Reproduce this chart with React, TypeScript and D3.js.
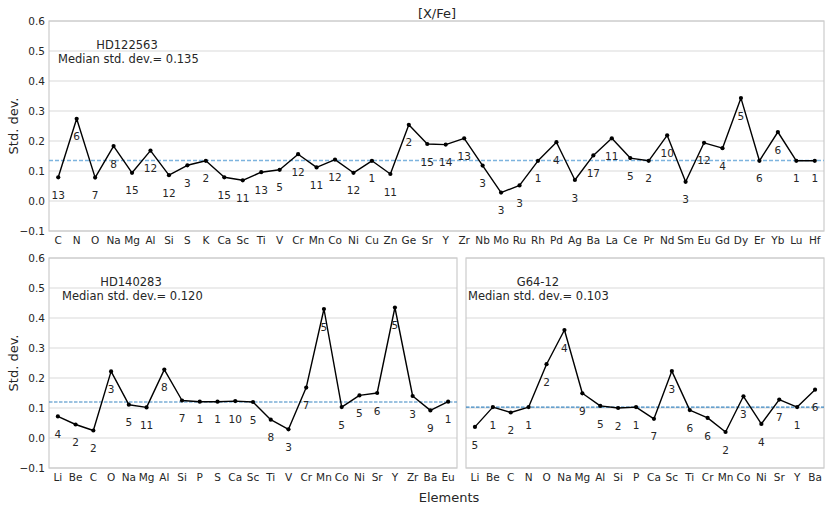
import React from "react";
import * as d3 from "d3";

const topCats = ["C","N","O","Na","Mg","Al","Si","S","K","Ca","Sc","Ti","V","Cr","Mn","Co","Ni","Cu","Zn","Ge","Sr","Y","Zr","Nb","Mo","Ru","Rh","Pd","Ag","Ba","La","Ce","Pr","Nd","Sm","Eu","Gd","Dy","Er","Yb","Lu","Hf"];
const topVals = [0.079,0.274,0.078,0.183,0.094,0.168,0.086,0.119,0.134,0.079,0.069,0.096,0.104,0.156,0.112,0.138,0.094,0.134,0.090,0.254,0.190,0.188,0.209,0.118,0.028,0.052,0.134,0.196,0.070,0.152,0.209,0.143,0.134,0.219,0.064,0.194,0.176,0.343,0.134,0.230,0.134,0.134];
const topCounts = ["13","6","7","8","15","12","12","3","2","15","11","13","5","12","11","12","12","1","11","2","15","14","13","3","3","3","1","4","3","17","11","5","2","10","3","12","4","5","6","6","1","1"];

const blCats = ["Li","Be","C","O","Na","Mg","Al","Si","P","S","Ca","Sc","Ti","V","Cr","Mn","Co","Ni","Sr","Y","Zr","Ba","Eu"];
const blVals = [0.072,0.045,0.025,0.222,0.111,0.102,0.228,0.125,0.121,0.121,0.123,0.120,0.061,0.029,0.168,0.430,0.103,0.142,0.150,0.435,0.140,0.092,0.121];
const blCounts = ["4","2","2","3","5","11","8","7","1","1","10","5","8","3","7","5","5","5","6","5","3","9","1"];

const brCats = ["Li","Be","C","N","O","Na","Mg","Al","Si","P","Ca","Sc","Ti","Cr","Mn","Co","Ni","Sr","Y","Ba"];
const brVals = [0.037,0.103,0.085,0.103,0.246,0.360,0.149,0.107,0.100,0.103,0.064,0.223,0.093,0.067,0.020,0.139,0.047,0.128,0.103,0.161];
const brCounts = ["5","1","2","1","2","4","9","5","2","1","7","3","6","6","2","3","4","7","1","6"];

const yTicks = [-0.1, 0.0, 0.1, 0.2, 0.3, 0.4, 0.5, 0.6];

const FONT = "DejaVu Sans";
const TXT = "#262626";

type PanelProps = {
  cats: string[]; vals: number[]; counts: string[]; median: number;
  star: string; left: number; right: number; top: number; bottom: number;
  showY: boolean; starX: number; medX: number; lineStyle: { color: string; dash: string; width: number };
};

function Panel(p: PanelProps) {
  const x = d3.scaleLinear().domain([-0.5, p.cats.length - 0.5]).range([p.left, p.right]);
  const y = d3.scaleLinear().domain([-0.1, 0.6]).range([p.bottom, p.top]);
  const line = d3.line<number>().x((_, i) => x(i)).y(v => y(v));
  const fmt = (v: number) => (v < 0 ? "\u2212" : "") + Math.abs(v).toFixed(1);
  return (
    <g>
      {yTicks.map(t => (
        <line key={"g" + t} x1={p.left} x2={p.right} y1={y(t)} y2={y(t)} stroke="#d9d9d9" strokeWidth={1} />
      ))}
      <rect x={p.left} y={p.top} width={p.right - p.left} height={p.bottom - p.top} fill="none" stroke="#cccccc" strokeWidth={1.2} />
      {p.showY && yTicks.map(t => (
        <text key={"yt" + t} x={p.left - 4} y={y(t)} dy="0.35em" textAnchor="end" fontSize={10.5} fill={TXT} fontFamily={FONT}>{fmt(t)}</text>
      ))}
      {p.cats.map((c, i) => (
        <text key={"xt" + i} x={x(i)} y={p.bottom + 12.5} textAnchor="middle" fontSize={10.5} fill={TXT} fontFamily={FONT}>{c}</text>
      ))}
      <line x1={p.left} x2={p.right} y1={y(p.median)} y2={y(p.median)} stroke={p.lineStyle.color} strokeWidth={p.lineStyle.width} strokeDasharray={p.lineStyle.dash} />
      <path d={line(p.vals) || ""} fill="none" stroke="#000" strokeWidth={1.4} strokeLinejoin="round" />
      {p.vals.map((v, i) => (
        <circle key={"c" + i} cx={x(i)} cy={y(v)} r={2.1} fill="#000" />
      ))}
      {p.vals.map((v, i) => (
        <text key={"n" + i} x={x(i)} y={y(v - 0.06)} dy="0.35em" textAnchor="middle" fontSize={10.5} fill={TXT} fontFamily={FONT}>{p.counts[i]}</text>
      ))}
      <text x={p.starX} y={p.top + 24} dy="0.35em" textAnchor="middle" fontSize={11.5} fill={TXT} fontFamily={FONT}>{p.star}</text>
      <text x={p.medX} y={p.top + 38} dy="0.35em" textAnchor="start" fontSize={11.5} fill={TXT} fontFamily={FONT}>{"Median std. dev.= " + p.median.toFixed(3)}</text>
    </g>
  );
}

export default function App() {
  const topStyle = { color: "#7db4de", dash: "4 2", width: 1.6 };
  const botStyle = { color: "#3a86c2", dash: "3.5 1.5", width: 1.2 };
  return (
    <svg width={830} height={511} style={{ position: "absolute", left: 0, top: 0, background: "#fff" }}>
      <text x={437} y={13} dy="0.35em" textAnchor="middle" fontSize={13} fill={TXT} fontFamily={FONT}>[X/Fe]</text>
      <Panel cats={topCats} vals={topVals} counts={topCounts} median={0.135} star="HD122563"
        left={49} right={824} top={21} bottom={231} showY={true} starX={127} medX={58} lineStyle={topStyle} />
      <Panel cats={blCats} vals={blVals} counts={blCounts} median={0.120} star="HD140283"
        left={49} right={457} top={258} bottom={468} showY={true} starX={131} medX={62} lineStyle={botStyle} />
      <Panel cats={brCats} vals={brVals} counts={brCounts} median={0.103} star="G64-12"
        left={466} right={824} top={258} bottom={468} showY={false} starX={538} medX={468} lineStyle={botStyle} />
      <text transform="translate(13,126) rotate(-90)" dy="0.35em" textAnchor="middle" fontSize={13} fill={TXT} fontFamily={FONT}>Std. dev.</text>
      <text transform="translate(13,363) rotate(-90)" dy="0.35em" textAnchor="middle" fontSize={13} fill={TXT} fontFamily={FONT}>Std. dev.</text>
      <text x={449} y={497} dy="0.35em" textAnchor="middle" fontSize={13} fill={TXT} fontFamily={FONT}>Elements</text>
    </svg>
  );
}
